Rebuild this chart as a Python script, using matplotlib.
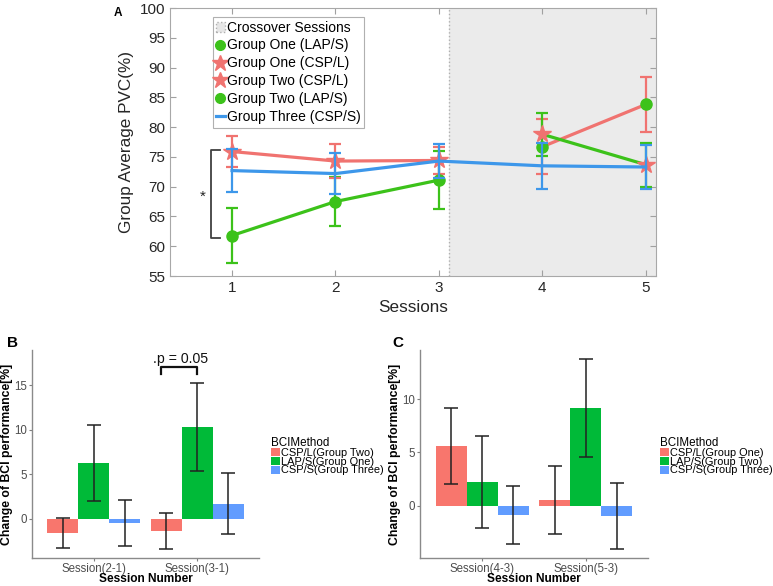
import matplotlib
matplotlib.use("Agg")
import matplotlib.pyplot as plt
from matplotlib.patches import Patch
from matplotlib.lines import Line2D
import numpy as np

plt.rcParams['font.family'] = ['Liberation Sans', 'DejaVu Sans']

# ---------------- Panel A data ----------------
sessions = [1, 2, 3, 4, 5]
early = [1, 2, 3]
late = [4, 5]
g1_lap = [61.8, 67.5, 71.1]
g1_lap_err = [4.55, 4.05, 4.85]
g2_csp = [75.9, 74.3, 74.4]
g2_csp_err = [2.6, 2.9, 2.3]
g3_csps = [72.7, 72.2, 74.3, 73.5, 73.3]
g3_csps_err = [3.65, 3.4, 2.9, 3.9, 3.7]
g1_csp_late = [76.7, 83.8]
g1_csp_late_err = [4.6, 4.65]
g2_lap_late = [78.8, 73.7]
g2_lap_late_err = [3.6, 3.7]

legend_a = ['Crossover Sessions', 'Group One (LAP/S)', 'Group One (CSP/L)',
            'Group Two (CSP/L)', 'Group Two (LAP/S)', 'Group Three (CSP/S)']

# ---------------- Panel B / C data ----------------
b_cats = ['Session(2-1)', 'Session(3-1)']
b_red = [-1.6, -1.35]
b_red_err = [1.65, 2.05]
b_green = [6.25, 10.3]
b_green_err = [4.25, 4.95]
b_blue = [-0.45, 1.7]
b_blue_err = [2.6, 3.45]
b_labels = ['CSP/L(Group Two)', 'LAP/S(Group One)', 'CSP/S(Group Three)']

c_cats = ['Session(4-3)', 'Session(5-3)']
c_red = [5.6, 0.55]
c_red_err = [3.6, 3.2]
c_green = [2.2, 9.15]
c_green_err = [4.3, 4.6]
c_blue = [-0.85, -1.0]
c_blue_err = [2.7, 3.1]
c_labels = ['CSP/L(Group One)', 'LAP/S(Group Two)', 'CSP/S(Group Three)']

RED = '#F07370'
GREEN = '#3CC21A'
BLUE = '#3D97EA'
GG_RED = '#F8766D'
GG_GREEN = '#00BA38'
GG_BLUE = '#619CFF'

fig = plt.figure(figsize=(7.73, 5.86), dpi=100)
W, H = 773, 586

def px_axes(l, t, r, b):
    return fig.add_axes([l / W, 1 - b / H, (r - l) / W, (b - t) / H])

# ================= Panel A =================
ax = px_axes(170, 8, 656, 276)
ax.axvspan(3.1, 5.1, facecolor='#EBEBEB', edgecolor='none', zorder=0)
ax.axvline(3.1, color='#B0B0B0', linestyle=':', linewidth=1, zorder=0.5)

lw = 2.3
cap = 4
ax.errorbar(early, g1_lap, yerr=g1_lap_err, color=GREEN, lw=lw, capsize=cap,
            capthick=1.6, elinewidth=1.6, marker='o', ms=8, zorder=3)
ax.errorbar(early, g2_csp, yerr=g2_csp_err, color=RED, lw=lw, capsize=cap,
            capthick=1.6, elinewidth=1.6, marker='*', ms=13, zorder=3)
ax.errorbar(late, g1_csp_late, yerr=g1_csp_late_err, color=RED, lw=lw, capsize=cap,
            capthick=1.6, elinewidth=1.6, marker='o', ms=8, mfc=GREEN, mec=GREEN, zorder=3)
ax.errorbar(late, g2_lap_late, yerr=g2_lap_late_err, color=GREEN, lw=lw, capsize=cap,
            capthick=1.6, elinewidth=1.6, marker='*', ms=13, mfc=RED, mec=RED, zorder=3)
ax.errorbar(sessions, g3_csps, yerr=g3_csps_err, color=BLUE, lw=lw, capsize=cap,
            capthick=1.6, elinewidth=1.6, zorder=4)

# significance bracket
ax.plot([0.88, 0.8, 0.8, 0.88], [76.2, 76.2, 61.3, 61.3], color='#404040', lw=1.3,
        zorder=2, clip_on=False)
ax.text(0.72, 68.3, '*', ha='center', va='center', fontsize=11, color='#222222')

ax.set_xlim(0.4, 5.1)
ax.set_ylim(55, 100)
ax.set_xticks(sessions)
ax.set_yticks(np.arange(55, 101, 5))
ax.tick_params(direction='in', top=True, right=True, labelsize=11, color='#A0A0A0',
               labelcolor='#262626', length=4)
for s in ax.spines.values():
    s.set_color('#A8A8A8')
ax.set_xlabel('Sessions', fontsize=12.3, color='#262626', labelpad=4)
ax.set_ylabel('Group Average PVC(%)', fontsize=12.3, color='#262626', labelpad=4)

handles = [
    Patch(facecolor='#E6E6E6', edgecolor='#B0B0B0', linestyle=':'),
    Line2D([], [], color=GREEN, marker='o', ls='none', ms=7),
    Line2D([], [], color=RED, marker='*', ls='none', ms=12),
    Line2D([], [], color=RED, marker='*', ls='none', ms=12),
    Line2D([], [], color=GREEN, marker='o', ls='none', ms=7),
    Line2D([], [], color=BLUE, lw=2.3),
]
leg = ax.legend(handles, legend_a, loc='upper left', bbox_to_anchor=(0.088, 0.966),
                fontsize=10, handlelength=0.6, handletextpad=0.15, labelspacing=0.28,
                borderpad=0.25, borderaxespad=0, fancybox=False, framealpha=1,
                edgecolor='#B0B0B0')
leg.get_frame().set_linewidth(0.8)
fig.text(118 / W, 1 - 13 / H, 'A', fontsize=8.5, fontweight='bold', ha='center', va='center')

# ================= Panels B & C =================
def bar_panel(ax, cats, reds, reds_e, greens, greens_e, blues, blues_e, labels, ylim, yticks):
    x = np.arange(1, len(cats) + 1)
    w = 0.3
    cols = [GG_RED, GG_GREEN, GG_BLUE]
    series = [(reds, reds_e), (greens, greens_e), (blues, blues_e)]
    for i, (vals, errs) in enumerate(series):
        xi = x + (i - 1) * w
        ax.bar(xi, vals, width=w, color=cols[i], edgecolor='none', zorder=2)
        ax.errorbar(xi, vals, yerr=errs, fmt='none', ecolor='#222222', elinewidth=1.1,
                    capsize=4.7, capthick=1.1, zorder=3)
    ax.set_xlim(0.4, len(cats) + 0.6)
    ax.set_ylim(*ylim)
    ax.set_xticks(x)
    ax.set_xticklabels(cats)
    ax.set_yticks(yticks)
    ax.tick_params(labelsize=8.3, labelcolor='#4D4D4D', color='#7F7F7F', length=2.5,
                   width=0.8, pad=1)
    for sp in ['top', 'right']:
        ax.spines[sp].set_visible(False)
    for sp in ['left', 'bottom']:
        ax.spines[sp].set_color('#8A8A8A')
        ax.spines[sp].set_linewidth(1.0)
    ax.set_xlabel('Session Number', fontsize=8.6, fontweight='bold', labelpad=-1.5)
    ax.set_ylabel('Change of BCI performance[%]', fontsize=8.8, fontweight='bold', labelpad=1)
    hs = [Patch(facecolor=c, edgecolor='none') for c in cols]
    lg = ax.legend(hs, labels, title='BCIMethod', loc='center left',
                   bbox_to_anchor=(1.03, 0.49), frameon=False, fontsize=7.9,
                   title_fontsize=8.4, handlelength=0.75, handleheight=0.75,
                   handletextpad=0.15, labelspacing=-0.1, borderpad=0, alignment='left')
    return lg

axb = px_axes(32, 350, 259, 558)
bar_panel(axb, b_cats, b_red, b_red_err, b_green, b_green_err, b_blue, b_blue_err,
          b_labels, (-4.4, 18.95), [0, 5, 10, 15])
axb.plot([1.65, 1.65, 2.0, 2.0], [16.3, 17.07, 17.07, 16.3], color='#111111', lw=1.6,
         zorder=4)
axb.text(1.84, 17.1, '.p = 0.05', ha='center', va='bottom', fontsize=10.2, color='#111111')
fig.text(12 / W, 1 - 343 / H, 'B', fontsize=11, fontweight='bold', ha='center', va='center')

axc = px_axes(420, 350, 648, 558)
bar_panel(axc, c_cats, c_red, c_red_err, c_green, c_green_err, c_blue, c_blue_err,
          c_labels, (-4.9, 14.6), [0, 5, 10])
fig.text(398 / W, 1 - 343 / H, 'C', fontsize=11, fontweight='bold', ha='center', va='center')

fig.savefig('out.png', dpi=100)
